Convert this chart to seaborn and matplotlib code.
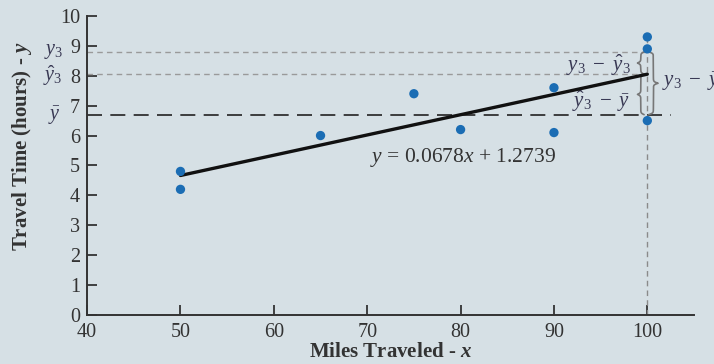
import numpy as np
import pandas as pd
import matplotlib
matplotlib.use("Agg")
import matplotlib.pyplot as plt
import seaborn as sns

# ---- data ----
miles = [50, 50, 65, 75, 80, 90, 90, 100, 100, 100]
hours = [4.8, 4.2, 6.0, 7.4, 6.2, 7.6, 6.1, 9.3, 8.9, 6.5]
slope = 0.0678
intercept = 1.2739
fit_x = [50, 100]
y3 = 8.8
x3 = 100
x_ticks = [40, 50, 60, 70, 80, 90, 100]
y_ticks = [0, 1, 2, 3, 4, 5, 6, 7, 8, 9, 10]

y3_hat = slope * x3 + intercept
y_bar = float(np.mean(hours))

# ---- style ----
sns.set_style("ticks")
bg = "#d6e0e5"
txt = "#333333"
plt.rcParams["font.family"] = ["Liberation Serif", "DejaVu Serif"]
plt.rcParams["mathtext.fontset"] = "custom"
plt.rcParams["mathtext.rm"] = "Liberation Serif"
plt.rcParams["mathtext.it"] = "Liberation Serif:italic"
plt.rcParams["mathtext.bf"] = "Liberation Serif:bold"
plt.rcParams["mathtext.bfit"] = "Liberation Serif:italic:bold"

fig = plt.figure(figsize=(7.14, 3.64), dpi=100, facecolor=bg)
ax = fig.add_axes([0.122, 0.135, 0.850, 0.821])
ax.set_facecolor(bg)

# reference lines
ax.plot([40, x3], [y3, y3], color="#9a9a9a", lw=1.0, ls=(0, (4, 3)), zorder=1)
ax.plot([40, x3], [y3_hat, y3_hat], color="#9a9a9a", lw=1.0, ls=(0, (4, 3)), zorder=1)
ax.plot([40, 102.5], [y_bar, y_bar], color="#222222", lw=1.2, ls=(0, (9, 5)), zorder=1)
ax.plot([x3, x3], [0, 9.3], color="#8a8a8a", lw=1.0, ls=(0, (4, 3)), zorder=1)

# regression line
fit_df = pd.DataFrame({"x": fit_x, "y": [slope * v + intercept for v in fit_x]})
sns.lineplot(data=fit_df, x="x", y="y", ax=ax, color="#111111", lw=2.4, zorder=4)

# points
sns.scatterplot(x=miles, y=hours, ax=ax, color="#1b6db4", s=45, edgecolor="none", zorder=5)

ax.set_xlim(40, 105)
ax.set_ylim(0, 10)
ax.set_xticks(x_ticks)
ax.set_yticks(y_ticks)
ax.set_xticklabels([str(v) for v in x_ticks])
ax.set_yticklabels([str(v) for v in y_ticks])
for s in ["top", "right"]:
    ax.spines[s].set_visible(False)
for s in ["left", "bottom"]:
    ax.spines[s].set_color("#333333")
    ax.spines[s].set_linewidth(1.4)
ax.tick_params(direction="in", length=7, width=1.3, color="#333333",
               labelsize=14.5, labelcolor=txt)
ax.tick_params(axis="x", pad=6)
ax.tick_params(axis="y", pad=5)

ax.set_xlabel(r"Miles Traveled - $\mathbfit{x}$", fontsize=15, fontweight="bold", color=txt)
ax.set_ylabel(r"Travel Time (hours) - $\mathbfit{y}$", fontsize=15, fontweight="bold", color=txt)
ax.xaxis.set_label_coords(0.5, -0.09)
ax.yaxis.set_label_coords(-0.088, 0.565)

# labels left of y axis
tr = ax.get_yaxis_transform()
lab_col = "#3a3a55"
ax.text(-0.04, y3, r"$y_3$", transform=tr, ha="right", va="center", fontsize=14.5, color=lab_col, clip_on=False)
ax.text(-0.04, y3_hat - 0.05, r"$\hat{y}_3$", transform=tr, ha="right", va="center", fontsize=14.5, color=lab_col, clip_on=False)
ax.text(-0.043, y_bar - 0.05, r"$\bar{y}$", transform=tr, ha="right", va="center", fontsize=14.5, color=lab_col, clip_on=False)


def brace(ax, x0, ylo, yhi, w, direction, color="#777777", lw=1.2):
    half_px = (yhi - ylo) / 2 * 29.9
    beta = 1.3 * half_px
    t = np.linspace(0, 1, 200)
    val = 1 / (1 + np.exp(-beta * t)) + 1 / (1 + np.exp(-beta * (t - 1))) - 0.5
    mid = (ylo + yhi) / 2
    ys_low = ylo + t * (mid - ylo)
    ys_high = yhi - t * (yhi - mid)
    xs = x0 + direction * w * val
    ys = np.concatenate([ys_low, ys_high[::-1]])
    xx = np.concatenate([xs, xs[::-1]])
    ax.plot(xx, ys, color=color, lw=lw, zorder=3, clip_on=False)


brace(ax, 99.65, y3_hat, y3, 0.7, -1)
brace(ax, 99.65, y_bar, y3_hat, 0.7, -1)
brace(ax, 100.15, y_bar, y3, 1.0, +1)

ax.text(94.8, 8.33, r"$y_3\ -\ \hat{y}_3$", ha="center", va="center", fontsize=15, color=lab_col)
ax.text(95.0, 7.12, r"$\hat{y}_3\ -\ \bar{y}$", ha="center", va="center", fontsize=15, color=lab_col)
ax.text(101.6, 7.8, r"$y_3\ -\ \bar{y}$", ha="left", va="center", fontsize=15, color=lab_col, clip_on=False)

ax.text(80.3, 5.28, r"$y$ = 0.0678$x$ + 1.2739", ha="center", va="center", fontsize=15.5, color=txt)

fig.savefig("out.png", dpi=100, facecolor=bg)
